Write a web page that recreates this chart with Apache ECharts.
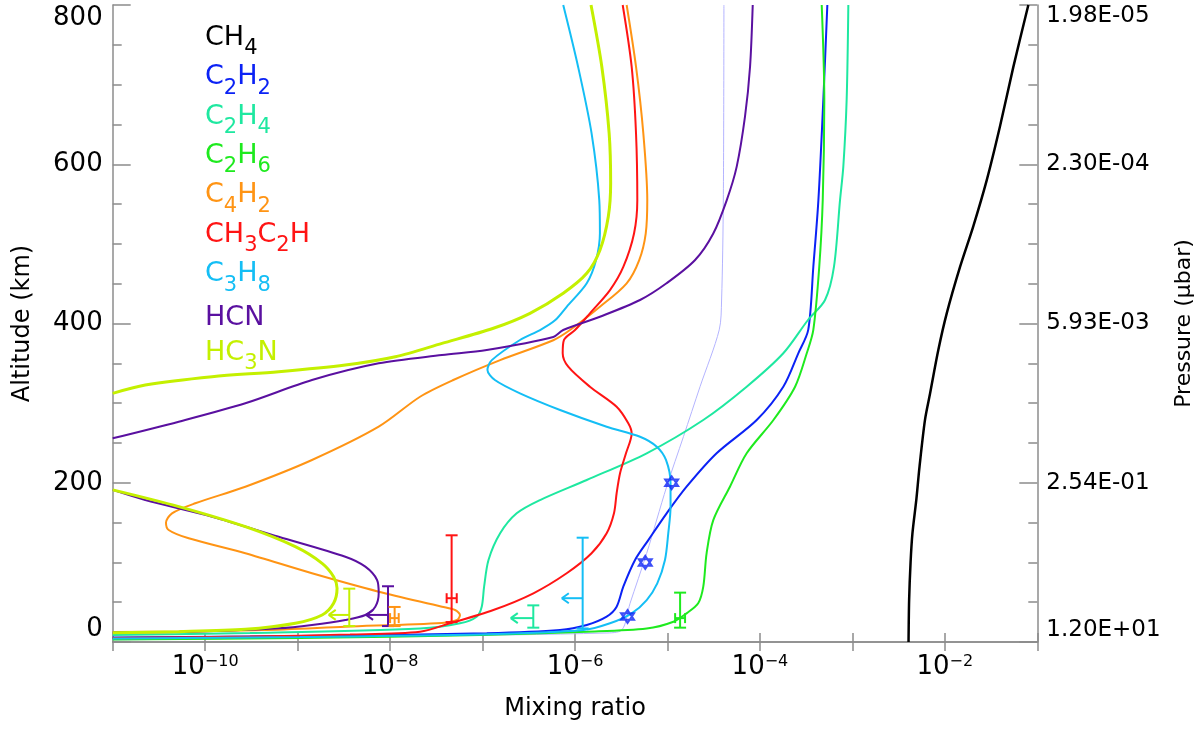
<!DOCTYPE html>
<html>
<head>
<meta charset="utf-8">
<title>Mixing ratio profiles</title>
<script src="https://cdn.jsdelivr.net/npm/echarts@6/dist/echarts.min.js"></script>
<style>
  html, body { margin: 0; padding: 0; background: #fff; }
  #chart { width: 1200px; height: 729px; }
</style>
</head>
<body>
<div id="chart"></div>
<script>
// legend order
const species = ['CH4', 'C2H2', 'C2H4', 'C2H6', 'C4H2', 'CH3C2H', 'C3H8', 'HCN', 'HC3N'];

// model profiles, [mixing ratio, altitude km]
const ch4 = [[4.05e-3, 0], [4.11e-3, 53], [4.26e-3, 100], [4.46e-3, 136], [4.93e-3, 180], [5.32e-3, 220], [6.1e-3, 279], [6.92e-3, 312], [8.51e-3, 367], [1.05e-2, 413], [1.46e-2, 471], [2.03e-2, 522], [2.84e-2, 580], [3.94e-2, 647], [5.5e-2, 722], [8.0e-2, 800]];
const c2h2 = [[1e-11, 5.7], [1.06e-9, 7.5], [1.11e-7, 11], [6.89e-7, 15], [1.34e-6, 21.4], [2.2e-6, 31.8], [2.82e-6, 44.3], [3.33e-6, 69.5], [4.46e-6, 103], [6.21e-6, 128], [9.8e-6, 161.6], [1.61e-5, 195], [3.4e-5, 237], [9.23e-5, 278.8], [1.79e-4, 320.6], [2.6e-4, 362.6], [3.33e-4, 392], [3.78e-4, 471], [4.29e-4, 555], [4.85e-4, 681], [5.36e-4, 800]];
const c2h4 = [[1e-11, 8.8], [3.05e-10, 11.3], [2.11e-8, 17], [5.7e-8, 23.5], [8.65e-8, 31.8], [9.8e-8, 44.3], [1.04e-7, 69.5], [1.16e-7, 103], [1.55e-7, 136.5], [2.34e-7, 161.6], [4.19e-7, 178.3], [1.34e-6, 203.5], [5.96e-6, 237], [2.44e-5, 278.8], [7.19e-5, 320.6], [1.79e-4, 362.6], [3.31e-4, 404.4], [5.06e-4, 429.5], [6.32e-4, 471], [7.35e-4, 555], [7.98e-4, 597], [8.67e-4, 681], [9.04e-4, 800]];
const c2h6 = [[1e-11, 3.1], [1.06e-9, 5], [9.4e-8, 8.8], [1.34e-6, 13], [5.96e-6, 17], [1.16e-5, 25.5], [1.61e-5, 36], [2.15e-5, 48.6], [2.44e-5, 69.5], [2.65e-5, 111.4], [3.13e-5, 153], [4.74e-5, 195], [7.19e-5, 237], [1.4e-4, 278.8], [2.4e-4, 320.6], [3.21e-4, 362.6], [3.78e-4, 392], [4.38e-4, 471], [4.78e-4, 555], [4.97e-4, 681], [4.66e-4, 800]];
const c4h2 = [[1e-11, 12.6], [5.35e-11, 13.2], [4.12e-10, 15], [3.28e-9, 19.2], [3.64e-8, 23.9], [5.3e-8, 27.6], [5.7e-8, 33.9], [5.04e-8, 40.2], [3.64e-8, 44.3], [7.53e-9, 63.2], [1.43e-9, 86.3], [2.72e-10, 111.4], [6.64e-11, 130.2], [4.03e-11, 140.7], [3.77e-11, 149.8], [4.38e-11, 161.6], [7.82e-11, 174.2], [2.72e-10, 195], [1.43e-9, 228.6], [7.53e-9, 270.4], [2.11e-8, 308], [4.83e-8, 329], [1.55e-7, 354], [5.82e-7, 379], [8.83e-7, 391.8], [1.86e-6, 421], [3.62e-6, 450.5], [4.95e-6, 479.7], [5.82e-6, 513], [6.05e-6, 555], [5.48e-6, 639], [4.57e-6, 722.5], [3.62e-6, 800]];
const ch3c2h = [[1e-11, 5], [3.05e-10, 6.9], [3.69e-9, 9.4], [2.11e-8, 13], [4.45e-8, 23.5], [1.31e-7, 40.2], [3.55e-7, 61.2], [8.13e-7, 86.3], [1.51e-6, 111.4], [2.2e-6, 136.5], [2.64e-6, 161.6], [2.82e-6, 186.8], [3.07e-6, 212], [3.56e-6, 237], [4.1e-6, 262], [3.77e-6, 274.7], [2.82e-6, 295.5], [1.45e-6, 320.6], [8.45e-7, 345.7], [7.36e-7, 362.6], [7.6e-7, 379.3], [1.0e-6, 391.8], [1.45e-6, 412.8], [2.39e-6, 442], [3.33e-6, 471], [4.35e-6, 513], [4.72e-6, 555], [4.57e-6, 639], [4.1e-6, 722.5], [3.28e-6, 800]];
const c3h8 = [[1e-11, 4.4], [1.06e-9, 6.3], [9.4e-8, 9.4], [1.23e-6, 15], [2.39e-6, 23.5], [4.1e-6, 36], [5.96e-6, 52.7], [7.76e-6, 73.7], [9.4e-6, 103], [1.02e-5, 136.5], [1.08e-5, 170], [1.08e-5, 199.3], [9.64e-6, 228.6], [7.66e-6, 245.3], [5.05e-6, 257.8], [2.2e-6, 270.4], [6.89e-7, 291.4], [2.54e-7, 312.3], [1.36e-7, 329], [1.13e-7, 341.6], [1.26e-7, 354], [2.54e-7, 379.3], [4.19e-7, 391.8], [6.08e-7, 404], [8.13e-7, 421], [1.34e-6, 450.5], [1.69e-6, 479.7], [1.86e-6, 513.6], [1.83e-6, 555], [1.51e-6, 639], [1.08e-6, 722.5], [7.46e-7, 800]];
const hcnLow = [[1e-11, 12], [8.79e-11, 13.2], [6.24e-10, 17.2], [1.43e-9, 21.4], [3.28e-9, 27.6], [5.4e-9, 33.9], [6.92e-9, 44.3], [7.53e-9, 61.2], [7.23e-9, 77.9], [5.4e-9, 94.6], [3.28e-9, 107.1], [6.24e-10, 132.2], [1.19e-10, 157.4], [2.25e-11, 178.3], [1e-11, 191]];
const hcnHigh = [[1e-11, 255.8], [5.18e-11, 276.7], [2.72e-10, 299.8], [1.43e-9, 329], [7.53e-9, 350], [3.64e-8, 360.4], [1.11e-7, 366.7], [5.82e-7, 383], [7.46e-7, 391.8], [1.86e-6, 408.5], [5.05e-6, 429.5], [9.77e-6, 450.5], [1.99e-5, 479.7], [3.13e-5, 513], [4.38e-5, 555], [5.61e-5, 597], [6.9e-5, 660], [7.82e-5, 722.5], [8.36e-5, 800]];
const hc3nLow = [[1e-11, 11.7], [5.18e-11, 13], [2.72e-10, 15.9], [9.44e-10, 23.5], [1.84e-9, 33.9], [2.45e-9, 48.6], [2.67e-9, 67.4], [2.45e-9, 82], [1.84e-9, 98.8], [9.44e-10, 119.7], [2.72e-10, 144.8], [5.18e-11, 170], [1e-11, 191]];
const hc3nHigh = [[1e-11, 312.3], [2.25e-11, 322.8], [1.19e-10, 333.2], [6.24e-10, 339.5], [3.28e-9, 347.9], [1.14e-8, 358.3], [3.64e-8, 375], [1.31e-7, 394], [3.26e-7, 412.8], [7.46e-7, 438], [1.34e-6, 463], [1.86e-6, 492], [2.29e-6, 534], [2.43e-6, 576], [2.34e-6, 639], [1.95e-6, 722.5], [1.49e-6, 800]];

// thin C2H2 profile through the observed points
const c2h2Fit = [[1e-11, 2.5], [2.11e-8, 7.5], [2.11e-6, 11.3], [3.2e-6, 15], [3.94e-6, 48.6], [5.96e-6, 111.4], [9.8e-6, 195], [1.49e-5, 258], [2.25e-5, 320.6], [3.63e-5, 392], [3.85e-5, 429.5], [4.02e-5, 555], [4.08e-5, 800]];
// observed C2H2
const c2h2ObsX = [3.7e-6, 5.75e-6, 1.11e-5];
const c2h2ObsAlt = [32, 100, 200];

// observations with error bars (limits get an arrow)
const barSpecies = ['HC3N', 'HCN', 'C4H2', 'CH3C2H', 'C2H4', 'C3H8', 'C2H6'];
const barX = [3.62e-9, 9.5e-9, 1.12e-8, 4.63e-8, 3.54e-7, 1.21e-6, 1.37e-5];
const barLow = [20, 20, 20, 25, 18, 17, 18];
const barHigh = [67, 70, 44, 134, 46, 131, 62];
const barMid = [34, 34, 30, 55, 30, 55, 30];
const barXLow = [2.17e-9, 5.5e-9, 1.0e-8, 4.09e-8, 2.02e-7, 7.2e-7, 1.21e-5];
const barXHigh = [3.62e-9, 9.5e-9, 1.24e-8, 5.26e-8, 3.54e-7, 1.21e-6, 1.55e-5];
const barIsLimit = [1, 1, 0, 0, 1, 1, 0];

// axis ticks
const altitudeTicks = [0, 200, 400, 600, 800];
const pressureLabels = ['1.20E+01', '2.54E-01', '5.93E-03', '2.30E-04', '1.98E-05'];

const colors = {
	CH4: '#000000', C2H2: '#0b22f5', C2H4: '#1ee8a0', C2H6: '#1eea1e', C4H2: '#ff9414',
	CH3C2H: '#ff1414', C3H8: '#14bef5', HCN: '#5a10a0', HC3N: '#c4f000'
};
const profiles = {
	CH4: [ch4], C2H2: [c2h2], C2H4: [c2h4], C2H6: [c2h6], C4H2: [c4h2],
	CH3C2H: [ch3c2h], C3H8: [c3h8], HCN: [hcnLow, hcnHigh], HC3N: [hc3nLow, hc3nHigh]
};

const font = 'DejaVu Sans';
const axisGray = '#8c8c8c';

document.addEventListener('DOMContentLoaded', function() {
	const chart = echarts.init(document.getElementById('chart'));

	// legend text: digits as subscripts
	const legendRich = {};
	species.forEach(function(s, i) {
		legendRich['m' + i] = { fontFamily: font, fontSize: 27, verticalAlign: 'top', color: colors[s] };
		legendRich['s' + i] = { fontFamily: font, fontSize: 21, verticalAlign: 'top', padding: [14, 0, 0, 0], color: colors[s] };
	});
	function formula(name) {
		const i = species.indexOf(name);
		return name.split(/(\d+)/).filter(Boolean).map(function(p) {
			return /\d/.test(p) ? '{s' + i + '|' + p + '}' : '{m' + i + '|' + p + '}';
		}).join('');
	}

	const series = [];
	species.forEach(function(s) {
		profiles[s].forEach(function(d) {
			series.push({
				name: s,
				type: 'line',
				data: d,
				symbol: 'none',
				smooth: 0.3,
				lineStyle: { color: colors[s], width: s === 'HC3N' ? 3 : (s === 'CH4' ? 2.5 : 2) },
				itemStyle: { color: colors[s] },
				z: 3
			});
		});
	});
	series.push({
		name: 'C2H2 fit',
		type: 'line',
		data: c2h2Fit,
		symbol: 'none',
		smooth: 0.3,
		lineStyle: { color: '#b4b4ff', width: 1 },
		z: 2
	});
	series.push({
		name: 'C2H2 obs',
		type: 'scatter',
		data: c2h2ObsX.map(function(x, i) { return [x, c2h2ObsAlt[i]]; }),
		symbol: 'path://M0,-10 L8.66,5 L-8.66,5 Z M0,10 L-8.66,-5 L8.66,-5 Z',
		symbolSize: 13,
		itemStyle: { color: 'rgba(255,255,255,0)', borderColor: colors.C2H2, borderWidth: 2 },
		z: 6
	});
	series.push({
		name: 'measurements',
		type: 'custom',
		z: 5,
		data: barX.map(function(x, i) {
			return {
				value: [x, barLow[i], barHigh[i], barMid[i], barXLow[i], barXHigh[i], barIsLimit[i]],
				itemStyle: { color: colors[barSpecies[i]] }
			};
		}),
		renderItem: function(params, api) {
			const x = api.value(0), mid = api.value(3);
			const c = api.visual('color');
			const pLo = api.coord([x, api.value(1)]);
			const pHi = api.coord([x, api.value(2)]);
			const pMid = api.coord([x, mid]);
			const cap = 6;
			function seg(a, b) {
				return { type: 'line', shape: { x1: a[0], y1: a[1], x2: b[0], y2: b[1] }, style: { stroke: c, lineWidth: 2 } };
			}
			const kids = [
				seg(pLo, pHi),
				seg([pLo[0] - cap, pLo[1]], [pLo[0] + cap, pLo[1]]),
				seg([pHi[0] - cap, pHi[1]], [pHi[0] + cap, pHi[1]])
			];
			if (api.value(6)) {
				const tip = api.coord([api.value(4), mid]);
				kids.push(seg(pMid, tip), seg(tip, [tip[0] + 7, tip[1] - 5]), seg(tip, [tip[0] + 7, tip[1] + 5]));
			} else {
				const a = api.coord([api.value(4), mid]), b = api.coord([api.value(5), mid]);
				kids.push(seg(a, b), seg([a[0], a[1] - 5], [a[0], a[1] + 5]), seg([b[0], b[1] - 5], [b[0], b[1] + 5]));
			}
			return { type: 'group', children: kids };
		}
	});

	const tickLine = { color: axisGray, width: 1.5 };
	function expLabel(v) {
		const e = Math.round(Math.log10(v));
		if (e % 2 !== 0) return '';
		return '{b|10}{s|\u2212' + Math.abs(e) + '}';
	}
	function xAxisBase(pos) {
		return {
			type: 'log', logBase: 10, min: 1e-11, max: 1e-1, interval: 1, position: pos,
			axisLine: { show: true, lineStyle: tickLine },
			axisTick: { show: true, inside: true, length: 9, lineStyle: tickLine },
			splitLine: { show: false },
			minorTick: { show: false }
		};
	}
	function yAxisBase(pos) {
		return {
			type: 'value', min: 0, max: 800, interval: 200, position: pos,
			axisLine: { show: true, lineStyle: tickLine },
			axisTick: { show: true, inside: true, length: 18, lineStyle: tickLine },
			minorTick: { show: true, splitNumber: 4, length: 9, lineStyle: tickLine },
			splitLine: { show: false }
		};
	}

	const xBottom = Object.assign(xAxisBase('bottom'), {
		axisLabel: {
			margin: 12,
			formatter: expLabel,
			rich: {
				b: { fontFamily: font, fontSize: 26, lineHeight: 34, verticalAlign: 'top', color: '#000' },
				s: { fontFamily: font, fontSize: 16, lineHeight: 16, verticalAlign: 'top', color: '#000' }
			}
		},
		name: 'Mixing ratio', nameLocation: 'middle', nameGap: 55,
		nameTextStyle: { fontFamily: font, fontSize: 24, color: '#000' }
	});
	const xTop = Object.assign(xAxisBase('top'), { axisLabel: { show: false } });

	const yLeft = Object.assign(yAxisBase('left'), {
		axisLabel: {
			fontFamily: font, fontSize: 26, color: '#000', margin: 10,
			verticalAlignMinLabel: 'bottom', verticalAlignMaxLabel: 'top'
		},
		name: 'Altitude (km)', nameLocation: 'middle', nameRotate: 90, nameGap: 78,
		nameTextStyle: { fontFamily: font, fontSize: 24, color: '#000' }
	});
	const yRight = Object.assign(yAxisBase('right'), {
		axisLabel: {
			fontFamily: font, fontSize: 23, color: '#000', margin: 9,
			verticalAlignMinLabel: 'bottom', verticalAlignMaxLabel: 'top',
			formatter: function(v) {
				const k = altitudeTicks.indexOf(v);
				return k < 0 ? '' : pressureLabels[k];
			}
		},
		name: 'Pressure (\u03bcbar)', nameLocation: 'middle', nameRotate: 90, nameGap: 136,
		nameTextStyle: { fontFamily: font, fontSize: 22, color: '#000' }
	});

	const option = {
		animation: false,
		backgroundColor: '#fff',
		textStyle: { fontFamily: font },
		grid: { left: 112.7, right: 162.7, top: 5, bottom: 87, outerBoundsMode: 'none' },
		legend: {
			orient: 'vertical', left: 200, top: 22, padding: 0, itemGap: 0,
			itemWidth: 0, itemHeight: 39.4, icon: 'rect', selectedMode: false,
			data: species, formatter: formula,
			textStyle: { rich: legendRich }
		},
		xAxis: [xBottom, xTop],
		yAxis: [yLeft, yRight],
		series: series
	};
	chart.setOption(option);
	window.addEventListener('resize', function() { chart.resize(); });
});
</script>
</body>
</html>
